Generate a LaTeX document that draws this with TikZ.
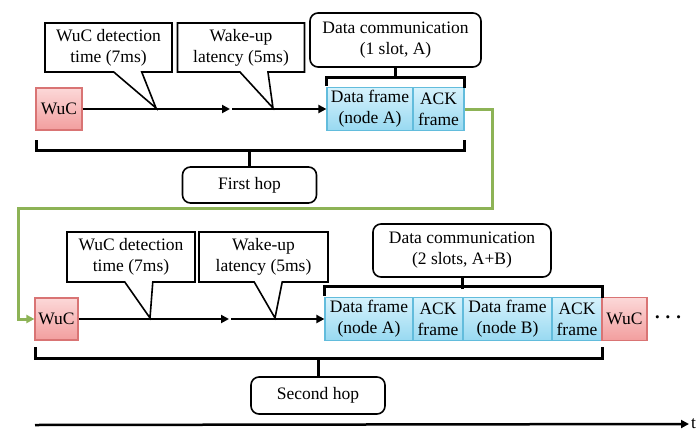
\documentclass[tikz,border=0pt]{standalone}
\usepackage{amsmath}
\usepackage{fontspec}
\setmainfont{Liberation Serif}
\usepackage{xcolor}
\usetikzlibrary{shapes.callouts,arrows.meta}
\definecolor{wucred}{HTML}{D97474}
\definecolor{wuctop}{HTML}{FCD8D8}
\definecolor{wucbot}{HTML}{F29E9E}
\definecolor{frameblue}{HTML}{62BCDC}
\definecolor{frametop}{HTML}{D6F2FC}
\definecolor{framebot}{HTML}{98D9F1}
\definecolor{hopgreen}{HTML}{8DB356}
\tikzset{
    txt/.style={font=\fontsize{17.5}{21}\selectfont, align=center, inner sep=2pt},
    wuc/.style={txt, draw=wucred, line width=1.2pt, top color=wuctop, bottom color=wucbot, minimum height=42pt},
    frame/.style={txt, draw=frameblue, line width=1.2pt, top color=frametop, bottom color=framebot, minimum height=43pt},
    callbox/.style={txt, rectangle callout, draw, line width=1.6pt, fill=white, minimum width=127pt, minimum height=49pt, callout pointer width=28pt},
    roundbox/.style={txt, draw, line width=1.6pt, rounded corners=8pt},
    bracket/.style={line width=3pt},
    timeline/.style={line width=2.5pt, -{Triangle[length=8pt,width=8pt]}}
}
\begin{document}
\begin{tikzpicture}[x=1pt, y=-1pt]
                \useasboundingbox (0,0) rectangle (696,434);

                % First hop: WuC and frames
                \node[wuc, minimum width=46pt] (wuc1) at (59,109) {WuC};
                \node[frame, minimum width=86pt] (df1) at (370,109) {Data frame\\(node A)};
                \node[frame, minimum width=51pt] (ack1) at (438.5,109) {ACK\\frame};

                % Timeline of the first hop
                \coordinate (m1) at (230,109);
                \draw[timeline] (wuc1.east) -- (m1);
                \draw[timeline] ([xshift=2pt]m1) -- (df1.west);

                % Callouts of the first hop
                \node[callbox, callout absolute pointer={(156,108)}] (det1) at (108.5,47.5) {WuC detection\\time (7ms)};
                \node[callbox, callout absolute pointer={(273,108)}] (lat1) at (241,47.5) {Wake-up\\latency (5ms)};

                % Data communication of the first hop
                \node[roundbox, minimum width=171pt, minimum height=54pt] (dc1) at (395.5,40) {Data communication\\(1 slot, A)};
                \draw[bracket] (df1.north west) ++(0,-1) -- ++(0,-8) -| ([yshift=-1pt]ack1.north east);
                \draw[bracket] (dc1.south) -- ++(0,10);

                % First hop label
                \node[roundbox, minimum width=134pt, minimum height=36pt] (hop1) at (249.5,185) {First hop};
                \draw[bracket] (36,140) -- (36,150) -- (464,150) -- (464,140);
                \draw[bracket] (hop1.north) -- ++(0,-17);

                % Second hop: WuC and frames
                \node[wuc, minimum width=43pt] (wuc2) at (56.5,319) {WuC};
                \node[frame, minimum width=88pt] (df2a) at (369,319) {Data frame\\(node A)};
                \node[frame, minimum width=50pt] (ack2a) at (438,319) {ACK\\frame};
                \node[frame, minimum width=89pt] (df2b) at (507.5,319) {Data frame\\(node B)};
                \node[frame, minimum width=50pt] (ack2b) at (577,319) {ACK\\frame};
                \node[wuc, minimum width=45pt, minimum height=43pt] (wuc3) at (624.5,319) {WuC};
                \node[txt, font=\fontsize{20}{20}\selectfont] (dots) at (670,318) {$\boldsymbol{\cdots}$};

                % Green link to the second hop
                \draw[hopgreen, line width=3pt, -{Triangle[length=8pt,width=8pt]}] (ack1.east) -- (492,109) -- (492,208) -- (18,208) -- (18,319) -- (wuc2.west);

                % Timeline of the second hop
                \coordinate (m2) at (229,319);
                \draw[timeline] (wuc2.east) -- (m2);
                \draw[timeline] ([xshift=2pt]m2) -- (df2a.west);

                % Callouts of the second hop
                \node[callbox, minimum width=128pt, minimum height=50pt, callout absolute pointer={(150,318)}] (det2) at (131,257) {WuC detection\\time (7ms)};
                \node[callbox, minimum width=129pt, minimum height=50pt, callout absolute pointer={(275,318)}] (lat2) at (263.5,257) {Wake-up\\latency (5ms)};

                % Data communication of the second hop
                \node[roundbox, minimum width=178pt, minimum height=53pt] (dc2) at (462,250.5) {Data communication\\(2 slots, A+B)};
                \draw[bracket] (df2a.north west) ++(0,-1) -- ++(0,-9) -| ([yshift=-1pt]ack2b.north east);
                \draw[bracket] (dc2.south) -- ++(0,11);

                % Second hop label
                \node[roundbox, minimum width=134pt, minimum height=37pt] (hop2) at (318,395.5) {Second hop};
                \draw[bracket] (35,347) -- (35,358) -- (602,358) -- (602,347);
                \draw[bracket] (hop2.north) -- ++(0,-19);

                % Time axis
                \node[txt, anchor=west] (tlab) at (689,424) {t};
                \draw[timeline] (35,425) -- (tlab.west);
            \end{tikzpicture}
\end{document}
